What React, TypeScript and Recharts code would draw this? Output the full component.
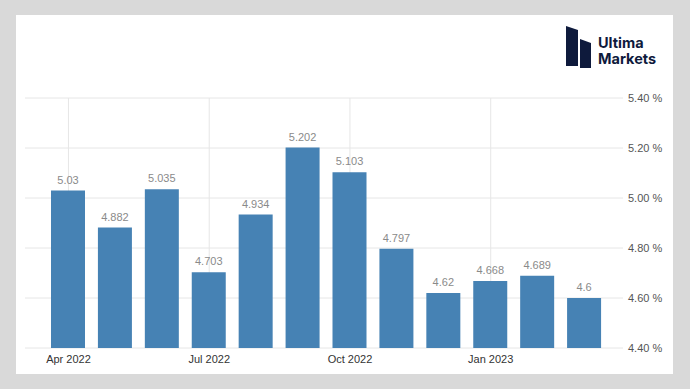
import { BarChart, Bar, CartesianGrid, LabelList, ReferenceLine, XAxis, YAxis } from 'recharts';

const months = [
  'Apr 2022', 'May 2022', 'Jun 2022', 'Jul 2022', 'Aug 2022', 'Sep 2022',
  'Oct 2022', 'Nov 2022', 'Dec 2022', 'Jan 2023', 'Feb 2023', 'Mar 2023',
];
const rates = [5.03, 4.882, 5.035, 4.703, 4.934, 5.202, 5.103, 4.797, 4.62, 4.668, 4.689, 4.6];
const xTicks = ['Apr 2022', 'Jul 2022', 'Oct 2022', 'Jan 2023'];
const yTicks = [4.4, 4.6, 4.8, 5.0, 5.2, 5.4];

const data = months.map((month, i) => ({ month, rate: rates[i] }));

const chartProps = {
  width: 690,
  height: 389,
  data,
  margin: { top: 98, right: 0, bottom: 11, left: 25 },
  barSize: 34,
};

const Logo = () => (
  <>
    <svg style={{ position: 'absolute', left: 565, top: 26 }} width={28} height={42} viewBox="0 0 28 42">
      <polygon points="1,0 13,4 13,40 1,40" fill="#0e1a3c" />
      <polygon points="15,13 26,17 26,42 15,42" fill="#0e1a3c" />
    </svg>
    <div
      style={{
        position: 'absolute',
        left: 598,
        top: 35,
        fontFamily: 'Inter, Roboto, sans-serif',
        fontWeight: 700,
        fontSize: 14.5,
        lineHeight: '16px',
        color: '#0e1a3c',
      }}
    >
      <div>Ultima</div>
      <div>Markets</div>
    </div>
  </>
);

const axes = (textFill: string, tickFill: string) => [
  <XAxis
    key="x"
    dataKey="month"
    ticks={xTicks}
    padding={{ left: 20, right: 15 }}
    height={30}
    axisLine={false}
    tickLine={false}
    tickSize={0}
    tickMargin={7}
    tick={{ fontSize: 11, fill: textFill }}
  />,
  <YAxis
    key="y"
    orientation="right"
    width={67}
    domain={[4.4, 5.4]}
    ticks={yTicks}
    allowDataOverflow
    axisLine={false}
    tickLine={false}
    tickSize={0}
    tickMargin={5}
    tick={{ fontSize: 11, fill: tickFill, textAnchor: 'start' }}
    tickFormatter={(value) => `${value.toFixed(2)} %`}
  />,
];

const App = () => {
  return (
    <div
      style={{
        position: 'absolute',
        left: 0,
        top: 0,
        width: 690,
        height: 389,
        background: '#d9d9d9',
        fontFamily: '"Liberation Sans", Arial, sans-serif',
      }}
    >
      <div
        style={{ position: 'absolute', left: 16, top: 15, width: 657, height: 359, background: '#ffffff' }}
      />
      {/* grid layer, kept behind the bars */}
      <div style={{ position: 'absolute', left: 0, top: 0 }}>
        <BarChart {...chartProps}>
          <CartesianGrid stroke="#e6e6e6" vertical={false} />
          {axes('none', 'none')}
          <Bar dataKey="rate" fill="none" isAnimationActive={false} />
          {xTicks.map((t) => (
            <ReferenceLine key={t} x={t} stroke="#e6e6e6" />
          ))}
        </BarChart>
      </div>
      <div style={{ position: 'absolute', left: 0, top: 0 }}>
        <BarChart {...chartProps}>
          {axes('#333333', '#555555')}
          <Bar dataKey="rate" fill="#4682b4" isAnimationActive={false}>
            <LabelList dataKey="rate" position="top" offset={7} fontSize={11} fill="#8a8a8a" />
          </Bar>
        </BarChart>
      </div>
      <Logo />
    </div>
  );
};

export default App;
